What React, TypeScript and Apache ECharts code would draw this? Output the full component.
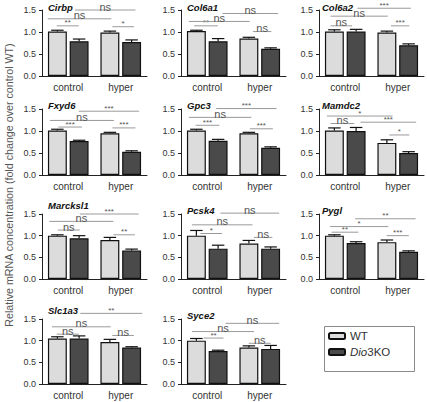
import React, { useEffect, useRef } from "react";
import * as echarts from "echarts";

const genes = ["Cirbp", "Col6a1", "Col6a2", "Fxyd6", "Gpc3", "Mamdc2", "Marcksl1", "Pcsk4", "Pygl", "Slc1a3", "Syce2"];
const categories = ["control", "hyper"];
const yTicks = [0, 0.5, 1.0, 1.5];

const wtMean = [[1.01, 0.99], [1.02, 0.85], [1.01, 0.99], [1.01, 0.95], [1.01, 0.95], [1.01, 0.73], [1.0, 0.9], [1.0, 0.82], [1.0, 0.85], [1.05, 0.97], [1.0, 0.84]];
const wtErr = [[0.03, 0.03], [0.02, 0.03], [0.04, 0.03], [0.03, 0.02], [0.03, 0.02], [0.06, 0.07], [0.02, 0.06], [0.12, 0.07], [0.02, 0.05], [0.04, 0.06], [0.05, 0.04]];
const koMean = [[0.79, 0.77], [0.79, 0.62], [1.01, 0.7], [0.77, 0.53], [0.78, 0.62], [1.0, 0.5], [0.94, 0.66], [0.7, 0.7], [0.83, 0.63], [1.05, 0.84], [0.76, 0.81]];
const koErr = [[0.05, 0.05], [0.06, 0.02], [0.05, 0.03], [0.02, 0.02], [0.03, 0.02], [0.08, 0.03], [0.06, 0.03], [0.08, 0.04], [0.03, 0.02], [0.06, 0.02], [0.02, 0.08]];

// comparisons: [ctrl WT vs KO, WT ctrl vs hyper, KO ctrl vs hyper, hyper WT vs KO]
const sigLabels = [
  ["**", "ns", "ns", "*"],
  ["**", "ns", "ns", "ns"],
  ["ns", "ns", "***", "***"],
  ["***", "ns", "***", "***"],
  ["***", "ns", "***", "***"],
  ["ns", "*", "***", "*"],
  ["ns", "ns", "***", "**"],
  ["*", "ns", "ns", "ns"],
  ["**", "*", "**", "***"],
  ["ns", "ns", "**", "ns"],
  ["**", "ns", "ns", "ns"],
];
const sigHeights = [
  [1.14, 1.3, 1.5, 1.12],
  [1.14, 1.24, 1.42, 1.01],
  [1.14, 1.36, 1.54, 1.14],
  [1.09, 1.24, 1.45, 1.07],
  [1.13, 1.31, 1.51, 1.05],
  [1.17, 1.34, 1.2, 0.91],
  [1.13, 1.33, 1.5, 1.02],
  [1.05, 1.25, 1.52, 0.96],
  [1.08, 1.21, 1.39, 1.0],
  [1.15, 1.32, 1.63, 1.12],
  [1.06, 1.21, 1.4, 0.94],
];
// bracket extents in category units (0 = control, 1 = hyper)
const sigSpans = [
  [[-0.22, 0.2], [-0.39, 0.82], [0.13, 1.28], [0.84, 1.25]],
  [[-0.25, 0.2], [-0.35, 0.81], [0.29, 1.35], [0.87, 1.22]],
  [[-0.28, 0.13], [-0.28, 0.81], [0.23, 1.25], [0.87, 1.22]],
  [[-0.19, 0.26], [-0.35, 0.87], [0.2, 1.35], [0.84, 1.28]],
  [[-0.22, 0.23], [-0.35, 0.84], [0.17, 1.32], [0.81, 1.25]],
  [[-0.28, 0.17], [-0.35, 0.9], [0.29, 1.35], [0.84, 1.22]],
  [[-0.2, 0.22], [-0.36, 0.86], [0.22, 1.34], [0.86, 1.27]],
  [[-0.13, 0.28], [-0.29, 0.86], [0.25, 1.37], [0.89, 1.24]],
  [[-0.26, 0.25], [-0.29, 0.82], [0.19, 1.34], [0.79, 1.21]],
  [[-0.22, 0.2], [-0.31, 0.81], [0.23, 1.41], [0.84, 1.25]],
  [[-0.07, 0.31], [-0.29, 0.89], [0.35, 1.37], [0.79, 1.21]],
];

const colLefts = [42, 181, 319];
const rowTops = [10, 109, 214, 319];
const rowHeights = [66, 66, 65, 65];
const titleRaise: Record<string, number> = { Cirbp: -1, Col6a1: -1, Col6a2: -1, Marcksl1: 5, Slc1a3: 5 };
const GRID_W = 105;
const BAR_FRAC = 0.36;
const GAP_FRAC = 0.15;
const FONT = "'Liberation Sans', Arial, Helvetica, sans-serif";

export default function App() {
  const ref = useRef<HTMLDivElement>(null);
  useEffect(() => {
    if (!ref.current) return;
    const chart = echarts.init(ref.current, null, { renderer: "svg" });
    const grids: any[] = [];
    const xAxes: any[] = [];
    const yAxes: any[] = [];
    const series: any[] = [];
    const titles: any[] = [];

    genes.forEach((g, i) => {
      const r = Math.floor(i / 3);
      const c = i % 3;
      const left = colLefts[c];
      const top = rowTops[r];
      grids.push({ left, top, width: GRID_W, height: rowHeights[r] });
      titles.push({
        text: g,
        left: left + (c === 2 ? 3 : 6),
        top: top - 9 - (titleRaise[g] || 0),
        padding: 0,
        textStyle: { fontSize: 9.5, fontStyle: "italic", fontWeight: "bold", color: "#111", fontFamily: FONT },
      });
      xAxes.push({
        type: "category",
        gridIndex: i,
        data: categories,
        axisLine: { lineStyle: { color: "#222", width: 1 } },
        axisTick: { show: false },
        axisLabel: { fontSize: 10, color: "#333", margin: 6, fontFamily: FONT },
      });
      yAxes.push({
        type: "value",
        gridIndex: i,
        min: 0,
        max: 1.5,
        interval: 0.5,
        axisLine: { show: true, lineStyle: { color: "#222", width: 1 } },
        axisTick: { show: true, length: 3, lineStyle: { color: "#222" } },
        splitLine: { show: false },
        axisLabel: {
          show: true,
          inside: false,
          fontSize: 9,
          color: "#333",
          margin: 6,
          hideOverlap: false,
          showMinLabel: true,
          showMaxLabel: true,
          fontFamily: FONT,
          formatter: (v: number) => Number(v).toFixed(1),
        },
      });
      series.push({
        type: "bar",
        name: "WT",
        xAxisIndex: i,
        yAxisIndex: i,
        data: wtMean[i],
        barWidth: BAR_FRAC * 100 + "%",
        barGap: GAP_FRAC * 100 + "%",
        itemStyle: { color: "#dcdcdc", borderColor: "#111", borderWidth: 1.2 },
      });
      series.push({
        type: "bar",
        name: "Dio3KO",
        xAxisIndex: i,
        yAxisIndex: i,
        data: koMean[i],
        barWidth: BAR_FRAC * 100 + "%",
        barGap: GAP_FRAC * 100 + "%",
        itemStyle: { color: "#4a4a4a", borderColor: "#111", borderWidth: 1.2 },
      });
      const errData: any[] = [];
      [0, 1].forEach((k) => {
        errData.push([k, wtMean[i][k] + wtErr[i][k], wtMean[i][k], -1]);
        errData.push([k, koMean[i][k] + koErr[i][k], koMean[i][k], 1]);
      });
      series.push({
        type: "custom",
        xAxisIndex: i,
        yAxisIndex: i,
        clip: false,
        silent: true,
        z: 5,
        data: errData,
        renderItem: (params: any, api: any) => {
          const item = errData[params.dataIndex];
          const band = api.size([1, 0])[0];
          const bw = band * BAR_FRAC;
          const off = (bw + bw * GAP_FRAC) / 2;
          const pTop = api.coord([item[0], item[1]]);
          const pMean = api.coord([item[0], item[2]]);
          const x = pTop[0] + item[3] * off;
          const cap = bw * 0.33;
          return {
            type: "group",
            children: [
              { type: "line", shape: { x1: x, y1: pMean[1], x2: x, y2: pTop[1] }, style: { stroke: "#111", lineWidth: 1.2 } },
              { type: "line", shape: { x1: x - cap, y1: pTop[1], x2: x + cap, y2: pTop[1] }, style: { stroke: "#111", lineWidth: 1.2 } },
            ],
          };
        },
      });
      const sigData = sigHeights[i].map((h, k) => [0, h, k]);
      series.push({
        type: "custom",
        xAxisIndex: i,
        yAxisIndex: i,
        clip: false,
        silent: true,
        z: 6,
        data: sigData,
        renderItem: (params: any, api: any) => {
          const k = params.dataIndex;
          const h = sigHeights[i][k];
          const span = sigSpans[i][k];
          const c0 = api.coord([0, h]);
          const c1 = api.coord([1, h]);
          const px = (p: number) => c0[0] + (c1[0] - c0[0]) * p;
          const x1 = px(span[0]);
          const x2 = px(span[1]);
          const lab = sigLabels[i][k];
          const isNs = lab === "ns";
          return {
            type: "group",
            children: [
              { type: "line", shape: { x1, y1: c0[1], x2, y2: c0[1] }, style: { stroke: "#9a9a9a", lineWidth: 1 } },
              {
                type: "text",
                style: {
                  text: lab,
                  x: (x1 + x2) / 2,
                  y: isNs ? c0[1] + 2 : c0[1] + 1,
                  textAlign: "center",
                  textVerticalAlign: "bottom",
                  fontSize: isNs ? 11 : 8,
                  fill: "#555",
                  fontFamily: FONT,
                },
              },
            ],
          };
        },
      });
    });

    chart.setOption({
      animation: false,
      backgroundColor: "#ffffff",
      textStyle: { fontFamily: FONT },
      title: titles,
      grid: grids,
      xAxis: xAxes,
      yAxis: yAxes,
      series,
      legend: {
        data: ["WT", "Dio3KO"],
        orient: "vertical",
        left: 328,
        top: 330,
        padding: 0,
        itemWidth: 16,
        itemHeight: 6,
        itemGap: 4,
        selectedMode: false,
        textStyle: { fontSize: 11.5, color: "#333", fontFamily: FONT, rich: { i: { fontStyle: "italic", fontSize: 11.5, color: "#333", fontFamily: FONT } } },
        formatter: (n: string) => (n === "Dio3KO" ? "{i|Dio}3KO" : n),
      },
      graphic: [
        {
          type: "rect",
          left: 322,
          top: 324,
          shape: { width: 90, height: 45 },
          style: { fill: "none", stroke: "#8a8a8a", lineWidth: 1 },
          z: 0,
        },
        {
          type: "text",
          x: 9,
          y: 185,
          rotation: Math.PI / 2,
          style: {
            text: "Relative mRNA concentration (fold change over control WT)",
            textAlign: "center",
            textVerticalAlign: "middle",
            fontSize: 10.7,
            fill: "#555",
            fontFamily: FONT,
          },
        },
      ],
    });
    return () => chart.dispose();
  }, []);
  return <div ref={ref} style={{ position: "fixed", left: 0, top: 0, width: 427, height: 402, background: "#fff" }} />;
}
